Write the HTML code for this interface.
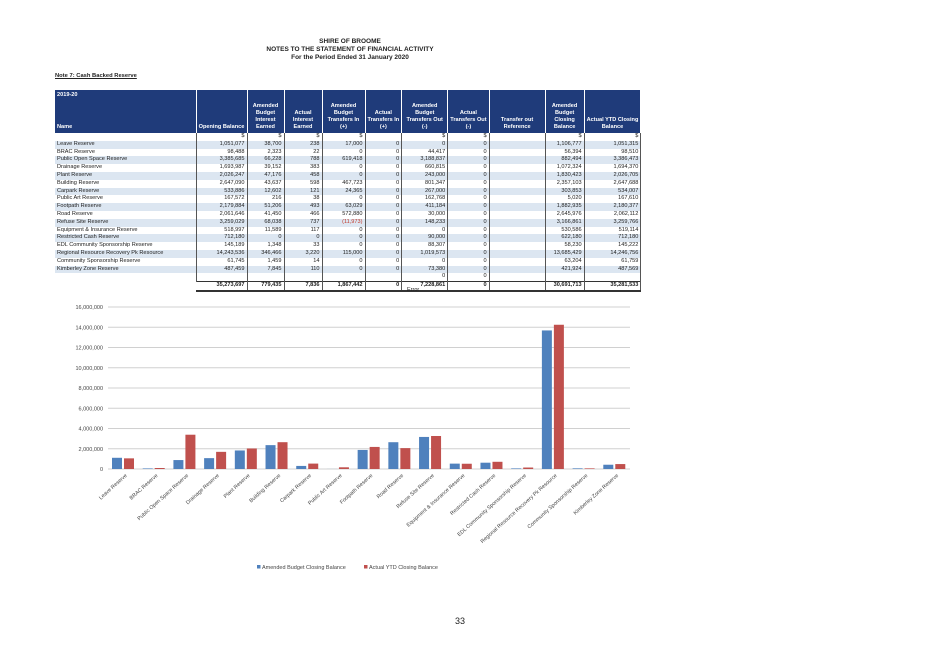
<!DOCTYPE html>
<html><head><meta charset="utf-8"><style>
body{margin:0;width:925px;height:653px;background:#fff;position:relative;overflow:hidden;font-family:"Liberation Sans",sans-serif;color:#222}
.t{position:absolute;left:0;width:700px;text-align:center;font-weight:bold;font-size:6.5px}
table{position:absolute;left:55px;top:90px;border-collapse:collapse;table-layout:fixed;font-size:5.6px;font-family:"Liberation Sans",sans-serif}
td,th{padding:0 2px;height:7.8px;line-height:7.8px;white-space:nowrap;overflow:hidden;border-right:1px solid #555}
th{background:#1f3b7a;color:#fff;height:41px;line-height:7px;vertical-align:bottom;padding-bottom:2px;font-weight:bold;text-align:center;border-right:1px solid #fff}
th.nm{text-align:left;position:relative}
td{text-align:right}
td.n{text-align:left}
tr.a td{background:#dce6f1}
tr.tot td{font-weight:bold;border-top:1px solid #333;border-bottom:2px solid #333}
.red{color:#c0392b}
</style></head><body>
<div class="t" style="top:38px">SHIRE OF BROOME</div>
<div class="t" style="top:46px">NOTES TO THE STATEMENT OF FINANCIAL ACTIVITY</div>
<div class="t" style="top:54px">For the Period Ended 31 January 2020</div>
<div style="position:absolute;left:55px;top:73px;font-size:5.8px;font-weight:bold;text-decoration:underline">Note 7: Cash Backed Reserve</div>

<table>
<colgroup><col style="width:141px"><col style="width:51px"><col style="width:37px"><col style="width:38px"><col style="width:43px"><col style="width:31px"><col style="width:46px"><col style="width:38px"><col style="width:56px"><col style="width:39px"><col style="width:53px"></colgroup>
<thead><tr>
<th class="nm"><span style="position:absolute;top:2px;left:2px">2019-20</span>Name</th><th>Opening Balance</th><th>Amended<br>Budget<br>Interest<br>Earned</th><th>Actual<br>Interest<br>Earned</th><th>Amended<br>Budget<br>Transfers In<br>(+)</th><th>Actual<br>Transfers In<br>(+)</th><th>Amended<br>Budget<br>Transfers Out<br>(-)</th><th>Actual<br>Transfers Out<br>(-)</th><th>Transfer out<br>Reference</th><th>Amended<br>Budget<br>Closing<br>Balance</th><th>Actual YTD Closing<br>Balance</th></tr></thead>
<tbody id="tb"></tbody></table>
<div style="position:absolute;left:407px;top:287px;font-size:5.5px">Error</div>

<svg id="ch" width="925" height="653" style="position:absolute;left:0;top:0"></svg>
<div style="position:absolute;left:455px;top:616px;font-size:9px">33</div>

<script>
const rows=[
["Leave Reserve","1,051,077","38,700","238","17,000","0","0","0","","1,106,777","1,051,315"],
["BRAC  Reserve","98,488","2,323","22","0","0","44,417","0","","56,394","98,510"],
["Public Open Space Reserve","3,385,685","66,228","788","619,418","0","3,188,837","0","","882,494","3,386,473"],
["Drainage Reserve","1,693,987","39,152","383","0","0","660,815","0","","1,072,324","1,694,370"],
["Plant Reserve","2,026,247","47,176","458","0","0","243,000","0","","1,830,423","2,026,705"],
["Building Reserve","2,647,090","43,637","598","467,723","0","801,347","0","","2,357,103","2,647,688"],
["Carpark Reserve","533,886","12,602","121","24,365","0","267,000","0","","303,853","534,007"],
["Public Art Reserve","167,572","216","38","0","0","162,768","0","","5,020","167,610"],
["Footpath Reserve","2,179,884","51,206","493","63,029","0","411,184","0","","1,882,935","2,180,377"],
["Road Reserve","2,061,646","41,450","466","572,880","0","30,000","0","","2,645,976","2,062,112"],
["Refuse Site Reserve","3,259,029","68,038","737","(11,973)","0","148,233","0","","3,166,861","3,259,766"],
["Equipment & Insurance Reserve","518,997","11,589","117","0","0","0","0","","530,586","519,114"],
["Restricted Cash Reserve","712,180","0","0","0","0","90,000","0","","622,180","712,180"],
["EDL Community Sponsorship Reserve","145,189","1,348","33","0","0","88,307","0","","58,230","145,222"],
["Regional Resource Recovery Pk Resource","14,243,536","346,466","3,220","115,000","0","1,019,573","0","","13,685,429","14,246,756"],
["Community Sponsorship Reserve","61,745","1,459","14","0","0","0","0","","63,204","61,759"],
["Kimberley Zone Reserve","487,459","7,845","110","0","0","73,380","0","","421,924","487,569"]];
const tb=document.getElementById('tb');
function addRow(cells,cls,name){const tr=document.createElement('tr');if(cls)tr.className=cls;


cells.forEach((c,i)=>{const td=document.createElement('td');td.textContent=c;if(i==0)td.className='n';if(i==4&&c[0]=='(')td.className='red';tr.appendChild(td);});tb.appendChild(tr);}
addRow(["","$","$","$","$","","$","$","","$","$"],'', 'currency-row');
rows.forEach((r,i)=>addRow(r,i%2==0?'a':'', 'row-'+r[0].toLowerCase().replace(/[^a-z]+/g,'-')));
addRow(["","","","","","","0","0","","",""],'','blank-row');
addRow(["","35,273,697","779,435","7,836","1,867,442","0","7,228,861","0","","30,691,713","35,281,533"],'tot','total-row');
const f=[...tb.querySelectorAll('tr.tot td')][0];
f.style.borderRight='none';f.style.borderTop='none';f.style.borderBottom='none';
</script>

<script>
const categories=["Leave Reserve","BRAC  Reserve","Public Open Space Reserve","Drainage Reserve","Plant Reserve","Building Reserve","Carpark Reserve","Public Art Reserve","Footpath Reserve","Road Reserve","Refuse Site Reserve","Equipment & Insurance Reserve","Restricted Cash Reserve","EDL Community Sponsorship Reserve","Regional Resource Recovery Pk Resource","Community Sponsorship Reserve","Kimberley Zone Reserve"];
const amendedBudget=[1106777,56394,882494,1072324,1830423,2357103,303853,5020,1882935,2645976,3166861,530586,622180,58230,13685429,63204,421924];
const actualYTD=[1051315,98510,3386473,1694370,2026705,2647688,534007,167610,2180377,2062112,3259766,519114,712180,145222,14246756,61759,487569];
const yTicks=[0,2000000,4000000,6000000,8000000,10000000,12000000,14000000,16000000];
const NS='http://www.w3.org/2000/svg',svg=document.getElementById('ch');
const X0=108,X1=630,Y0=469,Y1=307,YMAX=16000000;
const y=v=>Y0-(v/YMAX)*(Y0-Y1);
const bw=(X1-X0)/categories.length;
const x=i=>X0+i*bw;
function el(t,a){const e=document.createElementNS(NS,t);for(const k in a)e.setAttribute(k,a[k]);svg.appendChild(e);return e;}
yTicks.forEach(v=>{const l=el('line',{x1:X0,x2:X1,y1:y(v),y2:y(v),stroke:'#d0d0d0','stroke-width':1});


const t=el('text',{x:103,y:y(v)+2,'text-anchor':'end','font-size':5.5,fill:'#444','font-family':'Liberation Sans, sans-serif'});t.textContent=v.toLocaleString('en-US');

});
categories.forEach((c,i)=>{
const b=el('rect',{x:x(i)+4,y:y(amendedBudget[i]),width:10,height:Y0-y(amendedBudget[i]),fill:'#4f81bd'});


const r=el('rect',{x:x(i)+16,y:y(actualYTD[i]),width:10,height:Y0-y(actualYTD[i]),fill:'#c0504d'});


const cx=x(i)+bw/2+4,cy=476;
const t=el('text',{x:cx,y:cy,'text-anchor':'end','font-size':5.3,fill:'#444','font-family':'Liberation Sans, sans-serif',transform:`rotate(-42 ${cx} ${cy})`});t.textContent=c;

});
const legend=[["Amended Budget Closing Balance","#4f81bd",257],["Actual YTD Closing Balance","#c0504d",364]];
legend.forEach(([n,c,lx])=>{const s=el('rect',{x:lx,y:565,width:3.5,height:3.5,fill:c});


const t=el('text',{x:lx+5,y:569,'font-size':5.5,fill:'#444','font-family':'Liberation Sans, sans-serif'});t.textContent=n;

});
</script>
</body></html>
